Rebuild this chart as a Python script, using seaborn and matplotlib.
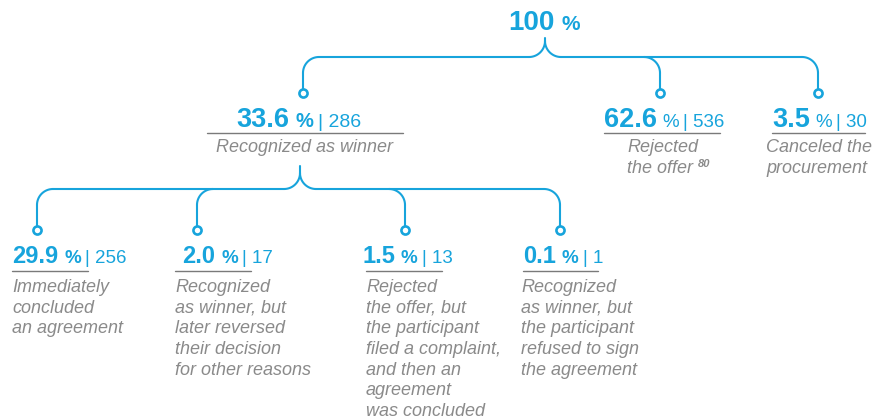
import numpy as np
import matplotlib
matplotlib.use('Agg')
import matplotlib.pyplot as plt
import seaborn as sns

# ── Data ──────────────────────────────────────────────────────────────────────
root_pct = '100'

level1_pct = ['33.6', '62.6', '3.5']
level1_cnt = ['286', '536', '30']
level1_desc = ['Recognized as winner', 'Rejected\nthe offer', 'Canceled the\nprocurement']
footnote = '80'

level2_pct = ['29.9', '2.0', '1.5', '0.1']
level2_cnt = ['256', '17', '13', '1']
level2_desc = [
    'Immediately\nconcluded\nan agreement',
    'Recognized\nas winner, but\nlater reversed\ntheir decision\nfor other reasons',
    'Rejected\nthe offer, but\nthe participant\nfiled a complaint,\nand then an\nagreement\nwas concluded',
    'Recognized\nas winner, but\nthe participant\nrefused to sign\nthe agreement',
]

# ── Style ─────────────────────────────────────────────────────────────────────
sns.set_theme(style='white')
plt.rcParams['font.family'] = ['Liberation Sans', 'DejaVu Sans']

BLUE = '#17a4dc'
GRAY = '#8a8a8a'
RULE = '#7a7a7a'

fig = plt.figure(figsize=(8.73, 4.2), dpi=100)
ax = fig.add_axes([0, 0, 1, 1])
ax.set_xlim(0, 873)
ax.set_ylim(420, 0)
ax.axis('off')
renderer = fig.canvas.get_renderer()


def width(t):
    return t.get_window_extent(renderer).width


def headline(x, y, pct, cnt, size, pct_size, cnt_size, pct_weight='bold', gap=6):
    t = ax.text(x, y, pct, fontsize=size, fontweight='bold', color=BLUE, va='baseline')
    x += width(t) + gap
    t = ax.text(x, y, '%', fontsize=pct_size, fontweight=pct_weight, color=BLUE, va='baseline')
    if cnt:
        x += width(t) + 4
        ax.text(x, y, '| ' + cnt, fontsize=cnt_size, color=BLUE, va='baseline')


def arc(cx, cy, r, t0, t1):
    t = np.linspace(t0, t1, 30)
    ax.plot(cx + r * np.cos(t), cy + r * np.sin(t), color=BLUE, lw=1.5,
            solid_capstyle='round')


def bracket(sx, y_top, y_h, y_end, xs, r=16):
    # stem splitting into both directions
    ax.plot([sx, sx], [y_top, y_h - r], color=BLUE, lw=1.5)
    arc(sx - r, y_h - r, r, 0, np.pi / 2)
    arc(sx + r, y_h - r, r, np.pi, np.pi / 2)
    ax.plot([min(xs) + r, sx - r], [y_h, y_h], color=BLUE, lw=1.5)
    ax.plot([sx + r, max(xs) - r], [y_h, y_h], color=BLUE, lw=1.5)
    for x in xs:
        if x < sx:
            arc(x + r, y_h + r, r, 1.5 * np.pi, np.pi)
        else:
            arc(x - r, y_h + r, r, 1.5 * np.pi, 2 * np.pi)
        ax.plot([x, x], [y_h + r, y_end], color=BLUE, lw=1.5)
    sns.scatterplot(x=xs, y=[y_end] * len(xs), ax=ax, s=34, color='white',
                    edgecolor=BLUE, linewidth=1.9, zorder=5, legend=False)


# ── Root ──────────────────────────────────────────────────────────────────────
headline(508, 30, root_pct, None, 20, 15, 13, gap=7)
bracket(545, 38, 57, 93, [303, 660, 818])

# ── Level 1 ───────────────────────────────────────────────────────────────────
l1_x = [236, 604, 772]
l1_rule = [(207, 403), (604, 720), (772, 865)]
l1_desc_x = [305, 627, 766]
l1_desc_ha = ['center', 'left', 'left']
for i in range(3):
    bold = i == 0
    headline(l1_x[i], 127, level1_pct[i], level1_cnt[i], 19.5,
             14.5 if bold else 13.5, 14 if bold else 13.5,
             'bold' if bold else 'normal', gap=7 if bold else 5)
    ax.plot(l1_rule[i], [133, 133], color=RULE, lw=1)
    ax.text(l1_desc_x[i], 139, level1_desc[i], fontsize=13, style='italic',
            color=GRAY, ha=l1_desc_ha[i], va='top', linespacing=1.28)

# footnote marker after "the offer"
t = ax.text(627, 175, 'the offer', fontsize=13, style='italic', alpha=0)
ax.text(627 + width(t) + 5, 167, footnote, fontsize=8, style='italic',
        fontweight='bold', color=GRAY, va='baseline')

bracket(300, 166, 189, 230, [37, 197, 405, 560])

# ── Level 2 ───────────────────────────────────────────────────────────────────
l2_x = [12, 182, 362, 523]
l2_rule = [(12, 88), (175, 251), (366, 442), (523, 598)]
l2_desc_x = [12, 175, 366, 521]
for i in range(4):
    headline(l2_x[i], 263, level2_pct[i], level2_cnt[i], 17, 13.5, 13.5)
    ax.plot(l2_rule[i], [271, 271], color=RULE, lw=1)
    ax.text(l2_desc_x[i], 279, level2_desc[i], fontsize=13, style='italic',
            color=GRAY, ha='left', va='top', linespacing=1.28)

fig.savefig('out.png', dpi=100)
